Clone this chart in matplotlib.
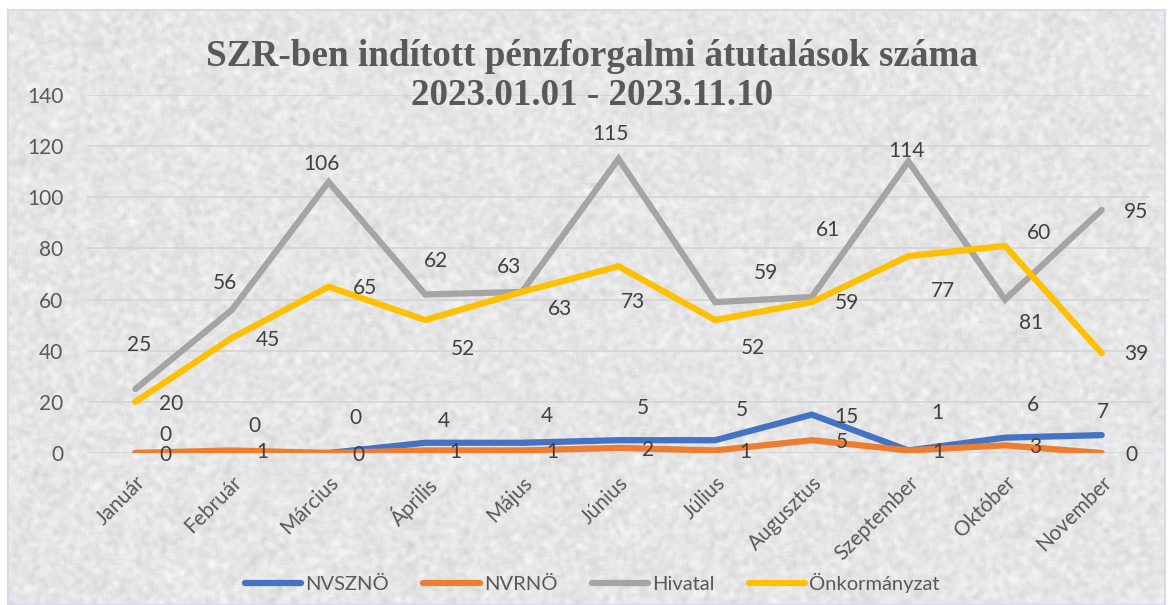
import numpy as np
import matplotlib
matplotlib.use('Agg')
import matplotlib.pyplot as plt

# --- data ---
months = ['Január', 'Február', 'Március', 'Április', 'Május', 'Június',
          'Július', 'Augusztus', 'Szeptember', 'Október', 'November']
nvszno = [0, 0, 0, 4, 4, 5, 5, 15, 1, 6, 7]
nvrno = [0, 1, 0, 1, 1, 2, 1, 5, 1, 3, 0]
hivatal = [25, 56, 106, 62, 63, 115, 59, 61, 114, 60, 95]
onkorm = [20, 45, 65, 52, 63, 73, 52, 59, 77, 81, 39]

# label offsets in pixels (dx, dy)
off_nvszno = [(30, 18), (22, 27), (27, 35), (19, 22), (25, 27), (24, 32),
              (27, 30), (35, -2), (29, 37), (28, 33), (1, 23)]
off_nvrno = [(30, -2)] * 11
off_hiv = [(4, 44), (-7, 27), (-7, 18), (11, 33), (-13, 25), (-8, 25),
           (51, 29), (16, 67), (-2, 10), (34, 67), (34, -2)]
off_onk = [(36, -2), (36, -2), (36, -1), (38, -29), (38, -17), (14, -36),
           (38, -28), (35, -1), (35, -35), (26, -77), (35, -1)]

TXT = '#595959'
LBL = '#404040'
FONT = 'Lato'

fig = plt.figure(figsize=(11.73, 6.05), dpi=100)
fig.patch.set_facecolor('white')

# textured background of the chart area
bg = fig.add_axes([8 / 1173, 0, 1157 / 1173, 595 / 605])
rng = np.random.default_rng(3)
h, w = 300, 580
n = rng.normal(0, 1, (h, w))
k = np.ones(3) / 3
n = np.apply_along_axis(lambda r: np.convolve(r, k, mode='same'), 1, n)
n = np.apply_along_axis(lambda c: np.convolve(c, k, mode='same'), 0, n)
tex = np.clip(0.9 + 0.06 * n, 0, 1)
bg.imshow(tex, cmap='gray', vmin=0, vmax=1, aspect='auto', interpolation='bilinear')
bg.set_xticks([])
bg.set_yticks([])
for sp in bg.spines.values():
    sp.set_color('#d6dcec')
    sp.set_linewidth(1.5)

ax = fig.add_axes([87 / 1173, 1 - 453 / 605, (1150 - 87) / 1173, (453 - 95) / 605])
ax.patch.set_alpha(0)
x = np.arange(len(months))

series = [
    ('NVSZNÖ', nvszno, '#4472C4', off_nvszno),
    ('NVRNÖ', nvrno, '#ED7D31', off_nvrno),
    ('Hivatal', hivatal, '#A5A5A5', off_hiv),
    ('Önkormányzat', onkorm, '#FFC000', off_onk),
]
for name, vals, col, offs in series:
    ax.plot(x, vals, color=col, lw=4.5, solid_capstyle='round',
            solid_joinstyle='miter', label=name, zorder=3)
for name, vals, col, offs in series:
    for xi, v, (dx, dy) in zip(x, vals, offs):
        ax.annotate(str(v), (xi, v), xytext=(dx, dy), textcoords='offset pixels',
                    ha='center', va='center', fontsize=15, color=LBL,
                    family=FONT, zorder=4)

ax.set_xlim(-0.5, len(months) - 0.5)
ax.set_ylim(0, 140)
ax.set_yticks(range(0, 141, 20))
ax.grid(axis='y', color='#d4d4d4', lw=1.2, zorder=0)
ax.tick_params(length=0)
ax.tick_params(axis='y', pad=17, labelsize=15, labelcolor=TXT)
ax.tick_params(axis='x', pad=14, labelsize=15, labelcolor=TXT)
for lab in ax.get_yticklabels():
    lab.set_family(FONT)
ax.set_xticks(x)
ax.set_xticklabels(months, rotation=45, ha='right', rotation_mode='anchor',
                   family=FONT)
for sp in ax.spines.values():
    sp.set_visible(False)

fig.text(0.505, 1 - 76 / 605, 'SZR-ben indított pénzforgalmi átutalások száma\n2023.01.01 - 2023.11.10',
         ha='center', va='center', fontsize=26.7, fontweight='bold',
         family='Liberation Serif', color=TXT, linespacing=1.13)

leg = fig.legend(loc='center', bbox_to_anchor=(0.505, 1 - 583 / 605), ncol=4,
                 frameon=False, handlelength=2.8, handletextpad=0.2,
                 columnspacing=1.7, prop={'family': FONT, 'size': 14.5})
for t in leg.get_texts():
    t.set_color(TXT)

fig.savefig('out.png', dpi=100)
